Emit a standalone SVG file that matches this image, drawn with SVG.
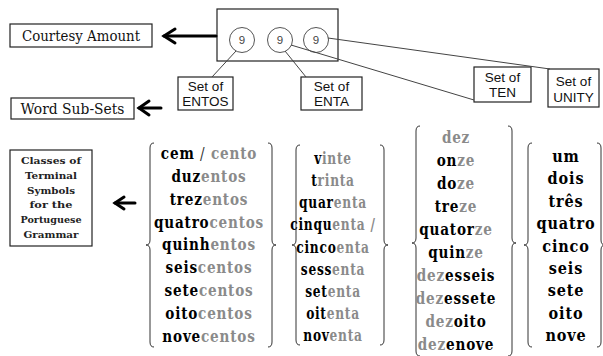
<svg xmlns="http://www.w3.org/2000/svg" width="603" height="356" viewBox="0 0 603 356">
<style>
.box{fill:#fff;stroke:#222;stroke-width:1.2}
.lbl{font-size:15px;fill:#111;text-anchor:middle}
.set{font-size:13.5px;fill:#111;text-anchor:middle}
.cls{font-size:10px;font-weight:bold;fill:#222;text-anchor:middle}
.circ{fill:#fff;stroke:#555;stroke-width:1}
.nine{font-size:11.5px;fill:#444;text-anchor:middle}
.con{stroke:#444;stroke-width:1;fill:none}
.arr{stroke:#000;stroke-width:3;fill:none;stroke-linecap:round;stroke-linejoin:miter}
.brace{stroke:#333;stroke-width:1;fill:none}
.w{font-size:17px;font-weight:bold;letter-spacing:1px;text-anchor:middle;fill:#000}
.g{fill:#8a8a8a}
</style>

<g id="courtesy-amount">
<rect class="box" x="10" y="24" width="142" height="23"/>
<text class="lbl" x="81" y="41" font-family="DejaVu Serif, serif" textLength="118" lengthAdjust="spacingAndGlyphs">Courtesy Amount</text>
</g>

<g id="digits-box" font-family="Liberation Sans, Arial, sans-serif">
<rect class="box" x="217" y="9" width="121" height="52"/>
<circle class="circ" cx="242" cy="40" r="12.5"/>
<text class="nine" x="242" y="44">9</text>
<circle class="circ" cx="280" cy="40" r="12.5"/>
<text class="nine" x="280" y="44">9</text>
<circle class="circ" cx="316" cy="40" r="12.5"/>
<text class="nine" x="316" y="44">9</text>
</g>

<g id="set-entos" font-family="Liberation Sans, Arial, sans-serif">
<rect class="box" x="178" y="77" width="55" height="33"/>
<text class="set" x="205.5" y="91">Set of</text>
<text class="set" x="205.5" y="106">ENTOS</text>
</g>
<g id="set-enta" font-family="Liberation Sans, Arial, sans-serif">
<rect class="box" x="301" y="77" width="61" height="33"/>
<text class="set" x="331.5" y="91">Set of</text>
<text class="set" x="331.5" y="106">ENTA</text>
</g>
<g id="set-ten" font-family="Liberation Sans, Arial, sans-serif">
<rect class="box" x="474" y="67" width="57" height="35"/>
<text class="set" x="502.5" y="82">Set of</text>
<text class="set" x="502.5" y="97">TEN</text>
</g>
<g id="set-unity" font-family="Liberation Sans, Arial, sans-serif">
<rect class="box" x="548" y="69" width="51" height="38"/>
<text class="set" x="573.5" y="86">Set of</text>
<text class="set" x="573.5" y="102">UNITY</text>
</g>

<g id="word-sub-sets" font-family="DejaVu Serif, serif">
<rect class="box" x="11" y="98" width="123" height="21"/>
<text class="lbl" x="72.5" y="114" textLength="104" lengthAdjust="spacingAndGlyphs">Word Sub-Sets</text>
</g>

<g id="classes" font-family="DejaVu Serif, serif">
<rect class="box" x="10" y="150" width="82" height="96"/>
<text class="cls" x="51" y="164" textLength="60" lengthAdjust="spacingAndGlyphs">Classes of</text>
<text class="cls" x="51" y="179" textLength="52" lengthAdjust="spacingAndGlyphs">Terminal</text>
<text class="cls" x="51" y="194" textLength="48" lengthAdjust="spacingAndGlyphs">Symbols</text>
<text class="cls" x="51" y="208" textLength="43" lengthAdjust="spacingAndGlyphs">for the</text>
<text class="cls" x="51" y="223" textLength="61" lengthAdjust="spacingAndGlyphs">Portuguese</text>
<text class="cls" x="51" y="238" textLength="55" lengthAdjust="spacingAndGlyphs">Grammar</text>
</g>

<g id="connectors">
<line class="arr" x1="216" y1="36" x2="164" y2="36"/>
<polyline class="arr" points="175,29 164,36 175,43"/>
<line class="arr" x1="161" y1="108" x2="139" y2="108"/>
<polyline class="arr" points="149,101 139,108 149,115"/>
<line class="arr" x1="135" y1="203" x2="115" y2="203"/>
<polyline class="arr" points="124,197 115,203 124,209"/>
<line class="con" x1="236" y1="51" x2="212" y2="77"/>
<line class="con" x1="285" y1="51" x2="306" y2="77"/>
<line class="con" x1="291" y1="45" x2="474" y2="100"/>
<line class="con" x1="328" y1="38" x2="550" y2="69"/>
</g>

<g id="col-entos" font-family="DejaVu Serif, serif">
<path class="brace" d="M154,143 Q150,143 150,148 L150,240 Q150,245 146,245 Q150,245 150,250 L150,342 Q150,347 154,347"/>
<path class="brace" d="M268,143 Q272,143 272,148 L272,240 Q272,245 276,245 Q272,245 272,250 L272,342 Q272,347 268,347"/>
<g transform="translate(209,0) scale(0.8,1)">
<text class="w" x="0" y="159">cem <tspan font-weight="normal" fill="#333">/</tspan> <tspan class="g">cento</tspan></text>
<text class="w" x="0" y="182">duz<tspan class="g">entos</tspan></text>
<text class="w" x="0" y="205">trez<tspan class="g">entos</tspan></text>
<text class="w" x="0" y="228">quatro<tspan class="g">centos</tspan></text>
<text class="w" x="0" y="250">quinh<tspan class="g">entos</tspan></text>
<text class="w" x="0" y="273">seis<tspan class="g">centos</tspan></text>
<text class="w" x="0" y="296">sete<tspan class="g">centos</tspan></text>
<text class="w" x="0" y="319">oito<tspan class="g">centos</tspan></text>
<text class="w" x="0" y="342">nove<tspan class="g">centos</tspan></text>
</g>
</g>

<g id="col-enta" font-family="DejaVu Serif, serif">
<path class="brace" d="M300,145 Q296,145 296,150 L296,240 Q296,245 292,245 Q296,245 296,250 L296,340 Q296,345 300,345"/>
<path class="brace" d="M380,145 Q384,145 384,150 L384,240 Q384,245 388,245 Q384,245 384,250 L384,340 Q384,345 380,345"/>
<g transform="translate(333,0) scale(0.72,1)">
<text class="w" x="0" y="164">v<tspan class="g">inte</tspan></text>
<text class="w" x="0" y="186">t<tspan class="g">rinta</tspan></text>
<text class="w" x="0" y="208">quar<tspan class="g">enta</tspan></text>
<text class="w" x="0" y="230">cinqu<tspan class="g">enta /</tspan></text>
<text class="w" x="0" y="253">cinco<tspan class="g">enta</tspan></text>
<text class="w" x="0" y="275">sess<tspan class="g">enta</tspan></text>
<text class="w" x="0" y="297">set<tspan class="g">enta</tspan></text>
<text class="w" x="0" y="319">oit<tspan class="g">enta</tspan></text>
<text class="w" x="0" y="341">nov<tspan class="g">enta</tspan></text>
</g>
</g>

<g id="col-ten" font-family="DejaVu Serif, serif">
<path class="brace" d="M420,126 Q416,126 416,131 L416,238 Q416,243 412,243 Q416,243 416,248 L416,351 Q416,356 420,356"/>
<path class="brace" d="M508,126 Q512,126 512,131 L512,238 Q512,243 516,243 Q512,243 512,248 L512,351 Q512,356 508,356"/>
<g transform="translate(456,0) scale(0.8,1)">
<text class="w" x="0" y="143"><tspan class="g">dez</tspan></text>
<text class="w" x="0" y="166">on<tspan class="g">ze</tspan></text>
<text class="w" x="0" y="189">do<tspan class="g">ze</tspan></text>
<text class="w" x="0" y="212">tre<tspan class="g">ze</tspan></text>
<text class="w" x="0" y="235">quator<tspan class="g">ze</tspan></text>
<text class="w" x="0" y="258">quin<tspan class="g">ze</tspan></text>
<text class="w" x="0" y="281"><tspan class="g">dez</tspan>esseis</text>
<text class="w" x="0" y="304"><tspan class="g">dez</tspan>essete</text>
<text class="w" x="0" y="327"><tspan class="g">dez</tspan>oito</text>
<text class="w" x="0" y="350"><tspan class="g">dez</tspan>enove</text>
</g>
</g>

<g id="col-unity" font-family="DejaVu Serif, serif">
<path class="brace" d="M532,143 Q528,143 528,148 L528,240 Q528,245 524,245 Q528,245 528,250 L528,342 Q528,347 532,347"/>
<path class="brace" d="M597,143 Q601,143 601,148 L601,240 Q601,245 605,245 Q601,245 601,250 L601,342 Q601,347 597,347"/>
<g transform="translate(566,0) scale(0.85,1)">
<text class="w" x="0" y="162">um</text>
<text class="w" x="0" y="184">dois</text>
<text class="w" x="0" y="207">três</text>
<text class="w" x="0" y="229">quatro</text>
<text class="w" x="0" y="252">cinco</text>
<text class="w" x="0" y="274">seis</text>
<text class="w" x="0" y="296">sete</text>
<text class="w" x="0" y="319">oito</text>
<text class="w" x="0" y="341">nove</text>
</g>
</g>
</svg>
